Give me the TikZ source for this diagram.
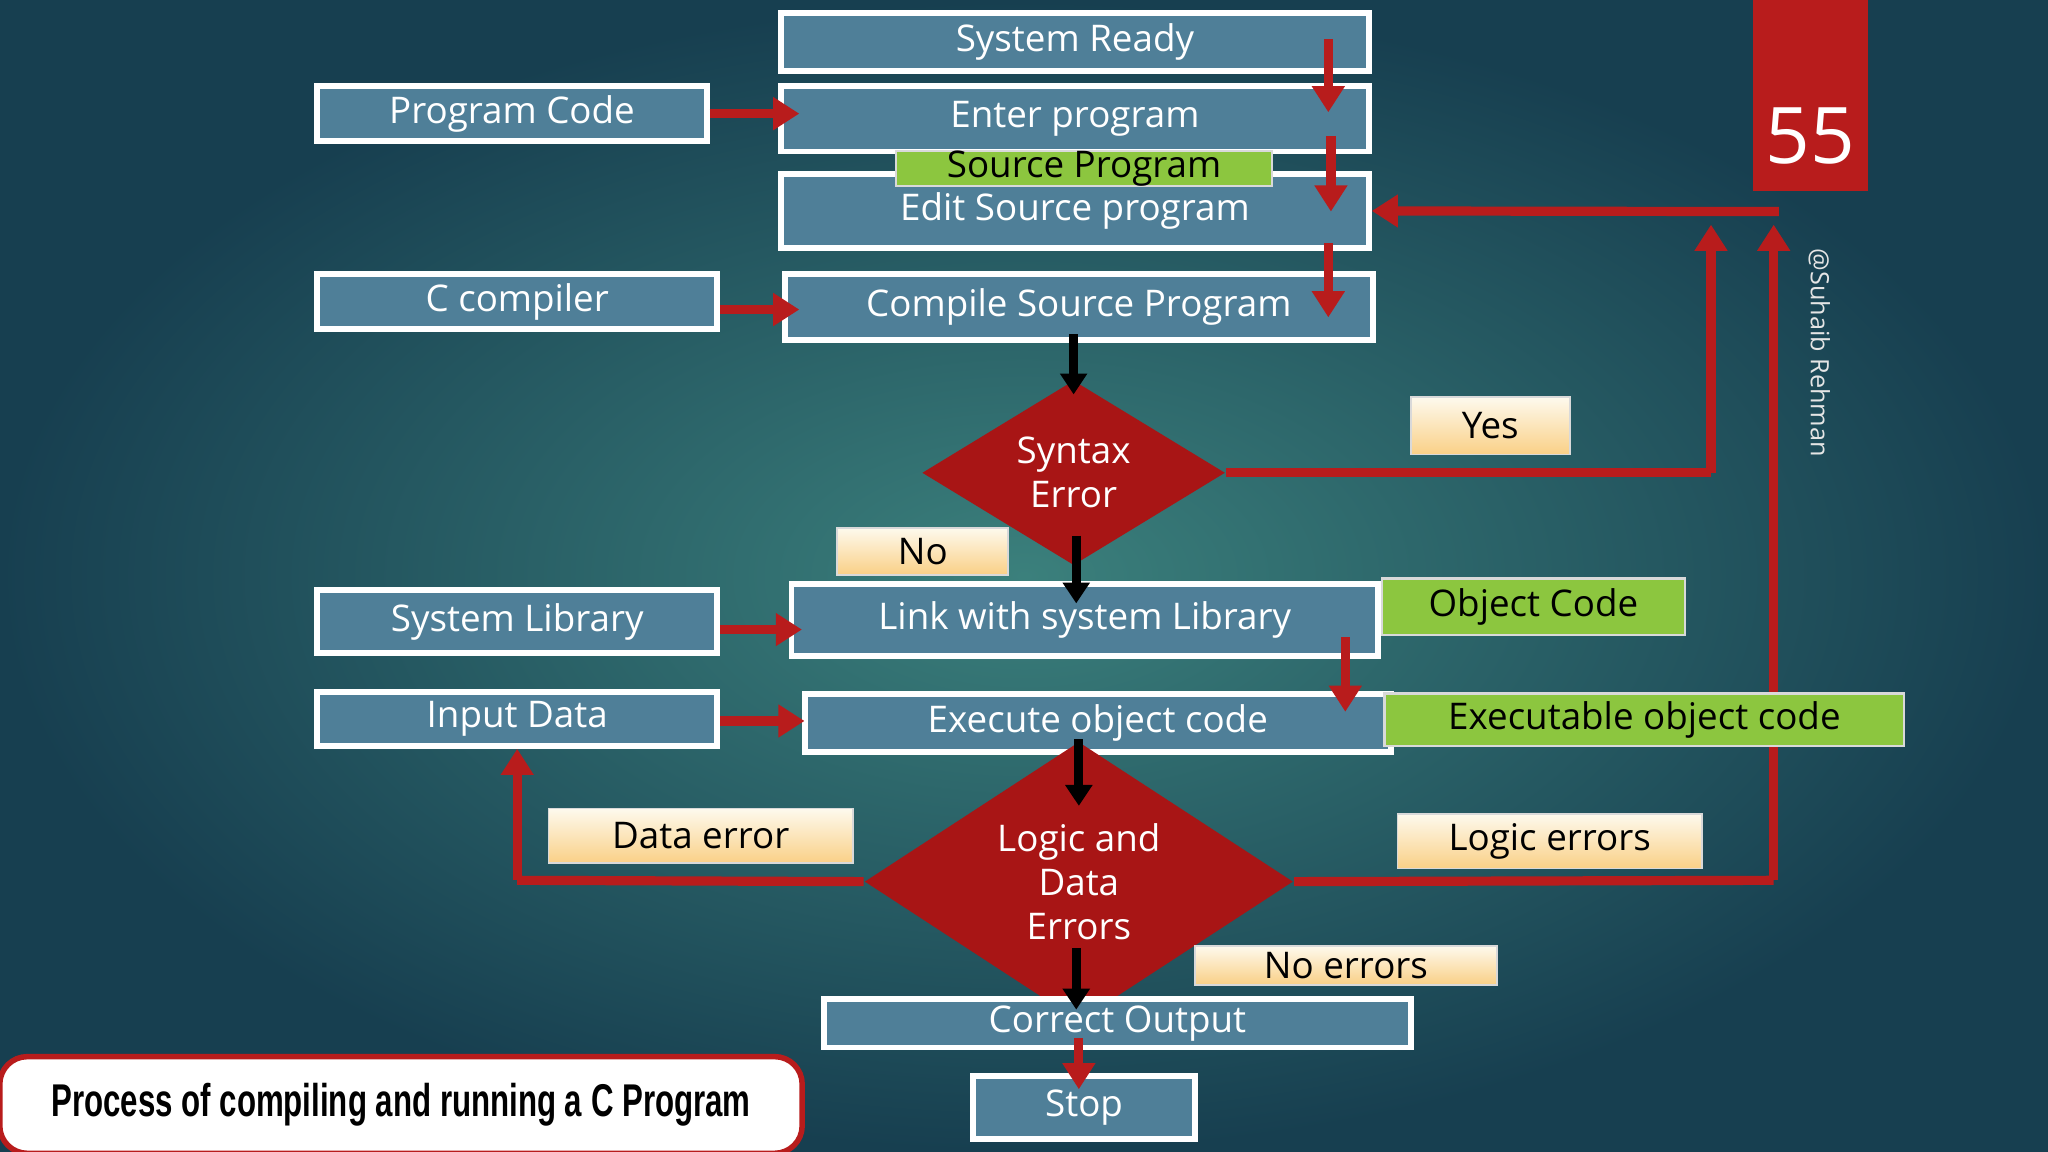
\documentclass[tikz,border=0pt]{standalone}
\usepackage{fontspec}
\setmainfont{Open Sans}
\newfontfamily\titlefont{Liberation Sans}
\usetikzlibrary{shapes.geometric,arrows.meta}
\pgfdeclarelayer{bg}\pgfdeclarelayer{conn}
\pgfsetlayers{bg,conn,main}
\definecolor{boxblue}{HTML}{4F7F98}
\definecolor{ared}{HTML}{B81C1C}
\definecolor{dred}{HTML}{A81515}
\definecolor{lgreen}{HTML}{8CC63F}
\definecolor{cream}{HTML}{F8E4A8}
\definecolor{bgin}{HTML}{3B807C}
\definecolor{bgout}{HTML}{173F50}
\tikzset{
  bx/.style={draw=white,line width=1.3pt,fill=boxblue,text=white,inner sep=0pt,font=\fontsize{8}{9.6}\selectfont},
  gbox/.style={draw=white!70!gray,line width=0.5pt,fill=lgreen,text=black,inner sep=0pt,font=\fontsize{8}{9.6}\selectfont},
  lbl/.style={draw=white!70!gray,line width=0.4pt,top color=white!80!cream,bottom color=cream!80!orange,text=black,inner sep=0pt,font=\fontsize{8}{9.6}\selectfont},
  ra/.style={draw=ared,line width=2pt,-{Triangle[length=0.2cm,width=0.24cm]}},
  rl/.style={draw=ared,line width=2pt},
  ba/.style={draw=black,line width=2pt,-{Triangle[length=0.16cm,width=0.2cm]}},
  dia/.style={diamond,fill=dred,text=white,inner sep=0pt,align=center,font=\fontsize{8}{9.6}\selectfont},
}
\newcommand{\bxn}[7]{\node[#6,minimum width={(#4-#2)*0.01cm},minimum height={(#5-#3)*0.01cm}] (#1) at ({(#2+#4)/2},{(#3+#5)/2}) {#7};}
\begin{document}
\begin{tikzpicture}[x=0.01cm,y=-0.01cm]
\useasboundingbox (0,0) rectangle (1568,882);
\begin{pgfonlayer}{bg}
\shade[inner color=bgin, outer color=bgout] (0,0) rectangle (1568,882);
\end{pgfonlayer}
% red tab
\fill[ared] (1342,0) rectangle (1430,146);
\node[text=white,font=\fontsize{17}{20}\selectfont] (num) at (1386,104) {55};
\node[text=white!80!gray,rotate=-90,font=\fontsize{5.5}{6}\selectfont] (wm) at (1393,270) {@Suhaib Rehman};
% boxes
\bxn{ready}{598}{10}{1048}{54}{bx}{System Ready}
\bxn{pcode}{243}{66}{541}{108}{bx}{Program Code}
\bxn{enter}{598}{66}{1048}{116}{bx}{Enter program}
\bxn{edit}{598}{133}{1048}{190}{bx}{\raisebox{-0.8ex}{Edit Source program}}
\bxn{src}{686}{116}{974}{142}{gbox}{Source Program}
\bxn{cc}{243}{210}{549}{252}{bx}{C compiler}
\bxn{comp}{601}{210}{1051}{260}{bx}{Compile Source Program}
\node[dia,minimum width=2.32cm,minimum height=1.4cm] (syn) at (822,362) {Syntax\\Error};
\bxn{yes}{1080}{304}{1202}{348}{lbl}{Yes}
\bxn{no}{641}{404}{772}{440}{lbl}{No}
\bxn{slib}{243}{452}{549}{500}{bx}{System Library}
\bxn{link}{606}{447}{1055}{502}{bx}{Link with system Library}
\bxn{obj}{1058}{443}{1290}{486}{gbox}{Object Code}
\bxn{input}{243}{530}{549}{571}{bx}{Input Data}
\bxn{exec}{616}{531}{1065}{576}{bx}{Execute object code}
\bxn{eobj}{1060}{531}{1458}{571}{gbox}{Executable object code}
\bxn{derr}{420}{619}{653}{661}{lbl}{Data error}
\node[dia,minimum width=3.28cm,minimum height=1.6cm] (log) at (826,675) {Logic and\\Data\\Errors};
\bxn{lerr}{1070}{623}{1303}{665}{lbl}{Logic errors}
\bxn{noerr}{915}{724}{1146}{754}{lbl}{No errors}
\bxn{out}{631}{765}{1080}{802}{bx}{Correct Output}
\bxn{stop}{745}{824}{915}{872}{bx}{Stop}
% title
\node[draw=ared,line width=1.2pt,fill=white,rounded corners=6pt,minimum width=6.14cm,minimum height=0.74cm,inner sep=0pt] (title) at (307,846)
 {\titlefont\bfseries\fontsize{10}{12}\selectfont\scalebox{0.68}[1]{Process of compiling and running a C Program}};
% connector end points
\coordinate (a1) at (1017,30); \coordinate (a2) at (1017,86);
\coordinate (b1) at (1019,104); \coordinate (b2) at (1019,162);
\coordinate (c1) at (1017,186); \coordinate (c2) at (1017,243);
\coordinate (d1) at (1030,488); \coordinate (d2) at (1030,545);
\coordinate (y1) at (1310,362); \coordinate (y2) at (1310,172);
\coordinate (l1) at (1358,674); \coordinate (l2) at (1358,172);
\coordinate (e1) at (1362,162);
\coordinate (dd) at (396,674);
\coordinate (pe) at (612,87); \coordinate (ce) at (612,237);
\coordinate (se) at (614,482); \coordinate (ie) at (616,552);
\coordinate (k1) at (822,256); \coordinate (k2) at (822,302);
\coordinate (k3) at (824,410); \coordinate (k4) at (824,462);
\coordinate (k5) at (826,566); \coordinate (k6) at (826,617);
\coordinate (k7) at (824,726); \coordinate (k8) at (824,773);
\coordinate (s1) at (826,795); \coordinate (s2) at (826,834);
\begin{pgfonlayer}{conn}
\draw[rl] (syn.east) -- (y1);
\draw[ra] (y1) -- (y2);
\draw[rl] (log.east) -- (l1);
\draw[ra] (l1) -- (l2);
\draw[ra] (e1) -- (edit.east);
\draw[rl] (log.west) -- (dd);
\draw[ra] (dd) -- (input.south -| dd);
\end{pgfonlayer}
\draw[ra] (pcode.east |- pe) -- (pe);
\draw[ra] (cc.east |- ce) -- (ce);
\draw[ra] (slib.east |- se) -- (se);
\draw[ra] (input.east |- ie) -- (ie);
\draw[ra] (a1) -- (a2);
\draw[ra] (b1) -- (b2);
\draw[ra] (c1) -- (c2);
\draw[ra] (d1) -- (d2);
\draw[ra] (s1) -- (s2);
\draw[ba] (k1) -- (k2);
\draw[ba] (k3) -- (k4);
\draw[ba] (k5) -- (k6);
\draw[ba] (k7) -- (k8);
\end{tikzpicture}
\end{document}
